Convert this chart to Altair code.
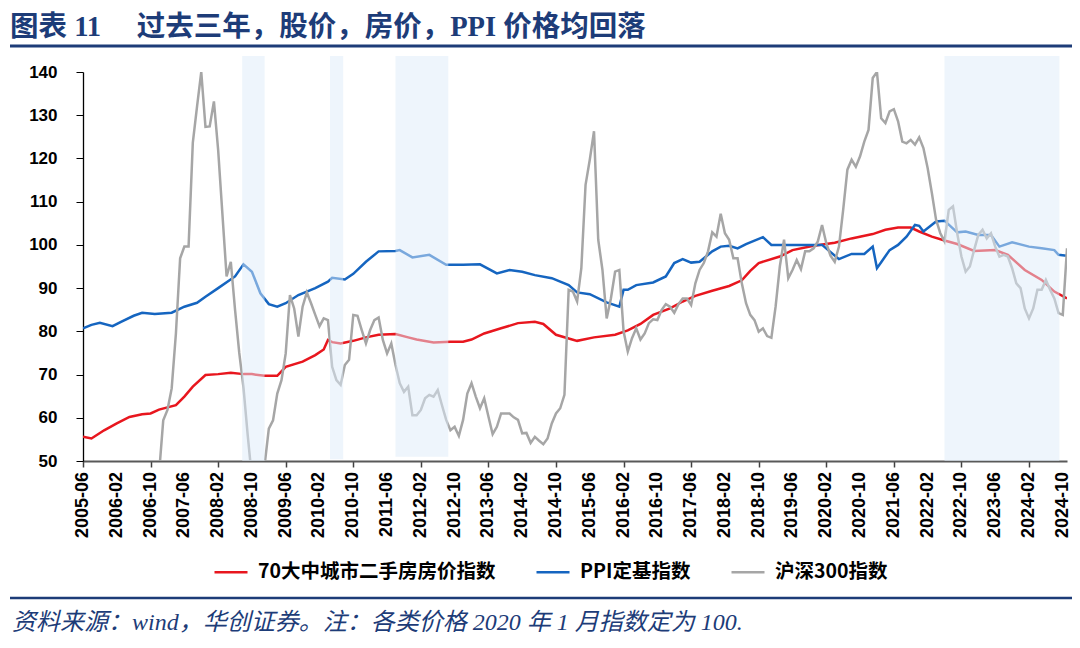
import altair as alt
import pandas as pd

# ---------------- data ----------------
# x positions are month indices: 0 = 2005-06, 1 = 2005-07, ... 232 = 2024-10
SERIES_NAMES = ["70大中城市二手房房价指数", "PPI定基指数", "沪深300指数"]
SERIES_COLORS = ["#e8161e", "#1565c0", "#a6a6a6"]

RED_MONTHS = [0, 2, 5, 8, 11, 14, 16, 18, 22, 24, 26, 29, 32, 35, 38, 40, 43, 46, 48, 52,
              55, 57, 58, 59, 61, 64, 67, 70, 74, 77, 79, 83, 87, 90, 92, 95, 99, 103, 107, 109,
              112, 117, 121, 126, 129, 132, 135, 139, 142, 145, 149, 153, 156, 158, 160, 165, 168, 173, 178, 182,
              187, 190, 193, 196, 198, 201, 204, 207, 211, 216, 219, 223, 227, 230, 233]
RED_VALUES = [55.6, 55.2, 57.1, 58.7, 60.2, 60.8, 61.0, 61.9, 62.9, 64.9, 67.2, 69.9, 70.1, 70.4, 70.1, 70.1, 69.7, 69.7, 71.8, 73.0,
              74.5, 75.8, 78.0, 77.5, 77.2, 77.8, 78.6, 79.2, 79.4, 78.6, 78.1, 77.4, 77.6, 77.6, 78.1, 79.5, 80.7, 81.9, 82.2, 81.7,
              79.2, 77.8, 78.6, 79.2, 80.2, 81.7, 83.8, 85.3, 86.9, 88.2, 89.4, 90.5, 91.8, 94.0, 95.8, 97.3, 98.8, 99.8, 100.5, 101.5,
              102.5, 103.5, 104.0, 104.0, 103.1, 101.9, 101.0, 100.2, 98.6, 98.8, 97.7, 94.2, 91.9, 89.2, 87.6]

BLUE_MONTHS = [0, 2, 4, 7, 9, 12, 14, 17, 21, 24, 27, 29, 32, 36, 38, 40, 42, 44, 46, 48,
               51, 55, 58, 59, 62, 64, 67, 70, 74, 75, 78, 82, 86, 90, 94, 98, 101, 104, 107, 111,
               115, 117, 120, 124, 127, 128, 129, 131, 135, 138, 140, 142, 144, 146, 149, 151, 153, 155, 157, 161,
               163, 167, 170, 175, 179, 182, 185, 187, 188, 189, 191, 193, 195, 197, 198, 199, 202, 204, 207, 209,
               212, 215, 217, 220, 224, 227, 230, 231, 233]
BLUE_VALUES = [80.7, 81.5, 82.0, 81.2, 82.2, 83.6, 84.3, 84.0, 84.3, 85.7, 86.6, 88.0, 90.0, 92.7, 95.5, 93.8, 88.8, 86.3, 85.7, 86.5,
               88.4, 90.0, 91.5, 92.4, 92.0, 93.3, 96.1, 98.5, 98.6, 98.8, 97.1, 97.7, 95.4, 95.4, 95.5, 93.4, 94.2, 93.8, 93.0, 92.3,
               90.7, 89.0, 88.6, 86.7, 85.7, 89.6, 89.6, 90.7, 91.3, 92.7, 95.8, 96.7, 95.9, 96.1, 98.5, 99.6, 99.8, 99.2, 100.2, 101.8,
               100.0, 100.0, 100.0, 100.0, 96.7, 97.9, 97.9, 99.6, 94.6, 96.0, 98.8, 100.0, 101.9, 104.6, 104.4, 103.1, 105.4, 105.6, 102.9, 103.1,
               102.3, 102.3, 99.6, 100.6, 99.6, 99.2, 98.8, 97.7, 97.5]

GRAY_MONTHS = list(range(17, 234))
GRAY_VALUES = [44, 47, 59.4, 61.8, 66.8, 79.5, 96.9, 99.6, 99.6, 123.6,          # 17-26
               132.0, 140.0, 127.3, 127.4, 133.2, 122.0, 107.3, 92.7, 96.1, 85.0,  # 27-36
               75.0, 67.0, 56.0, 46, 43, 44, 49, 57.5, 59.4, 65.6,                 # 37-46
               68.7, 74.9, 88.4, 85.3, 78.8, 85.7, 89.0, 86.5, 83.8, 81.2,         # 47-56
               83.0, 82.6, 71.8, 68.7, 67.6, 72.2, 73.4, 83.8, 83.6, 80.3,         # 57-66
               77.2, 80.3, 82.6, 83.2, 78.0, 74.9, 77.2, 72.2, 68.0, 66.0,         # 67-76
               67.2, 60.6, 60.6, 61.8, 64.5, 65.3, 64.9, 66.4, 62.9, 59.5,         # 77-86
               57.1, 57.9, 55.8, 59.5, 65.6, 68.0, 64.9, 62.2, 64.5, 60.3,         # 87-96
               56.2, 57.9, 61.0, 61.0, 61.0, 60.1, 59.5, 56.4, 56.5, 54.2,         # 97-106
               55.6, 54.7, 53.9, 55.2, 58.7, 61.0, 62.2, 65.3, 89.6, 89.2,         # 107-116
               86.9, 94.6, 113.9, 119.7, 126.3, 101.2, 94.2, 83.0, 87.6, 93.8,     # 117-126
               94.2, 80.0, 75.3, 78.4, 80.7, 78.1, 79.5, 81.9, 82.8, 82.6,         # 127-136
               84.9, 86.3, 85.7, 84.3, 86.3, 87.6, 87.6, 86.1, 91.1, 94.2,         # 137-146
               95.8, 98.5, 102.9, 101.9, 107.2, 102.7, 101.2, 96.9, 96.9, 91.1,    # 147-156
               86.5, 83.8, 82.6, 79.9, 80.7, 78.9, 78.5, 85.7, 95.0, 101.2,        # 157-166
               92.3, 94.2, 96.5, 94.4, 98.5, 98.5, 99.2, 100.8, 104.6, 100.4,      # 167-176
               97.5, 96.1, 99.6, 108.1, 117.4, 119.7, 118.1, 120.5, 123.9, 126.6,  # 177-186
               138.6, 140.0, 129.3, 128.2, 130.9, 131.4, 128.6, 123.9, 123.5, 124.3,  # 187-196
               123.2, 124.9, 122.4, 117.8, 112.0, 105.8, 102.7, 100.8, 108.1, 108.9,  # 197-206
               102.7, 97.3, 93.8, 95.0, 98.8, 102.3, 103.5, 101.5, 102.7, 99.6,    # 207-216
               97.3, 97.7, 97.3, 94.6, 91.1, 90.0, 85.3, 83.0, 85.3, 89.6,         # 217-226
               89.6, 91.9, 89.6, 87.6, 84.2, 83.8, 99.2]                           # 227-233

X_TICK_LABELS = ["2005-06", "2006-02", "2006-10", "2007-06", "2008-02", "2008-10", "2009-06", "2010-02",
                 "2010-10", "2011-06", "2012-02", "2012-10", "2013-06", "2014-02", "2014-10", "2015-06",
                 "2016-02", "2016-10", "2017-06", "2018-02", "2018-10", "2019-06", "2020-02", "2020-10",
                 "2021-06", "2022-02", "2022-10", "2023-06", "2024-02", "2024-10"]
X_TICK_MONTHS = [8 * i for i in range(len(X_TICK_LABELS))]   # one label every 8 months
Y_TICKS = [50, 60, 70, 80, 90, 100, 110, 120, 130, 140]

# shaded periods, in month indices
SHADE_START = [37.7, 58.5, 74.0, 204.0]
SHADE_END = [43.0, 61.6, 86.5, 231.2]
SHADE_TOP = [143.7, 143.7, 143.7, 143.7]
SHADE_BOTTOM = [50, 50.4, 51, 50]

NB = "\u00a0"
TITLE = "图表" + NB + "11" + NB * 5 + "过去三年，股价，房价，PPI" + NB + "价格均回落"
FOOTER = "资料来源：wind，华创证券。注：各类价格" + NB + "2020" + NB + "年" + NB + "1" + NB + "月指数定为" + NB + "100."

NAVY = "#1d3c78"
SERIF = "'Liberation Serif', 'Noto Sans CJK SC', serif"
SANS = "'Liberation Sans', Arial, sans-serif"
CJK = "'Noto Sans CJK SC', 'Liberation Sans', sans-serif"
PLOT_H = 389

frames = []
for name, months, vals in zip(SERIES_NAMES, [RED_MONTHS, BLUE_MONTHS, GRAY_MONTHS],
                              [RED_VALUES, BLUE_VALUES, GRAY_VALUES]):
    frames.append(pd.DataFrame({"month": months, "value": vals, "series": name}))
lines_df = pd.concat(frames, ignore_index=True)

shade_df = pd.DataFrame({"start": SHADE_START, "end": SHADE_END,
                         "top": SHADE_TOP, "bottom": SHADE_BOTTOM})
ticks_df = pd.DataFrame({"month": X_TICK_MONTHS, "label": X_TICK_LABELS})

x_scale = alt.Scale(domain=[0, 233], nice=False, zero=False)
y_scale = alt.Scale(domain=[50, 140], nice=False, zero=False)

x_axis = alt.Axis(values=X_TICK_MONTHS, labels=False, tickSize=6, tickColor="#404040", tickWidth=1.5,
                  domainColor="#595959", domainWidth=2, grid=False, title=None)
y_axis = alt.Axis(values=Y_TICKS, labelFont=SANS, labelFontSize=17, labelFontWeight="bold",
                  labelColor="#000000", labelPadding=19, tickSize=7, tickColor="#000000",
                  domainColor="#000000", domainWidth=1.3, grid=False, title=None)

legend = alt.Legend(orient="none", legendX=130, legendY=482, direction="horizontal", title=None,
                    symbolType="stroke", symbolSize=1089, symbolStrokeWidth=2.5,
                    labelFont=CJK, labelFontSize=19.5, labelFontWeight="bold", labelColor="#000000",
                    labelOffset=9, columnPadding=35, labelLimit=500)

lines = alt.Chart(lines_df).mark_line(strokeWidth=2.5, clip=True).encode(
    x=alt.X("month:Q", scale=x_scale, axis=x_axis),
    y=alt.Y("value:Q", scale=y_scale, axis=y_axis),
    color=alt.Color("series:N", scale=alt.Scale(domain=SERIES_NAMES, range=SERIES_COLORS),
                    sort=SERIES_NAMES, legend=legend),
)

shades = alt.Chart(shade_df).mark_rect(fill="#deebf9", opacity=0.5, clip=False).encode(
    x="start:Q", x2="end:Q", y="top:Q", y2="bottom:Q"
)

x_labels = alt.Chart(ticks_df).mark_text(
    angle=270, align="right", baseline="middle", font=SANS, fontSize=18, fontWeight="bold", color="#000000"
).encode(x="month:Q", y=alt.value(PLOT_H + 11), text="label:N")

one = pd.DataFrame({"k": [0]})
title_text = alt.Chart(pd.DataFrame({"t": [TITLE]})).mark_text(
    align="left", baseline="alphabetic", font=SERIF, fontSize=28.5, fontWeight="bold", color=NAVY
).encode(text="t:N", x=alt.value(-73), y=alt.value(-36))

title_rule = alt.Chart(one).mark_rule(color=NAVY, strokeWidth=3).encode(
    x=alt.value(-73), x2=alt.value(992), y=alt.value(-26))

footer_rule = alt.Chart(one).mark_rule(color=NAVY, strokeWidth=2.5).encode(
    x=alt.value(-73), x2=alt.value(992), y=alt.value(526))

footer_text = alt.Chart(pd.DataFrame({"t": [FOOTER]})).mark_text(
    align="left", baseline="alphabetic", font=SERIF, fontSize=24, fontStyle="italic", color=NAVY
).encode(text="t:N", x=alt.value(-71), y=alt.value(558))

chart = alt.layer(lines, shades, x_labels, title_text, title_rule, footer_rule, footer_text).properties(
    width=984, height=PLOT_H,
    autosize=alt.AutoSizeParams(type="none"),
    padding={"left": 75, "top": 64, "right": 5, "bottom": 179},
    background="#ffffff",
).configure_view(stroke=None)

chart.save("out.html", embed_options={"renderer": "svg", "actions": False})
